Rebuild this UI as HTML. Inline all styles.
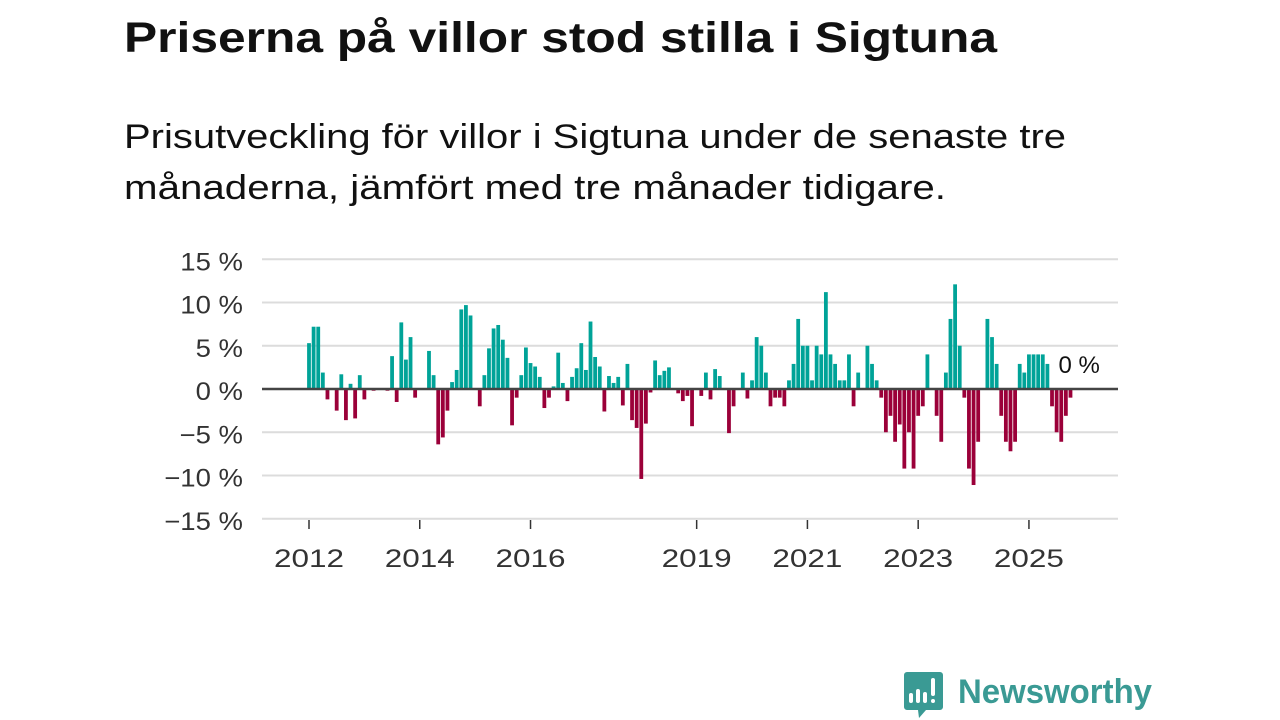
<!DOCTYPE html>
<html><head><meta charset="utf-8"><style>
html,body{margin:0;padding:0;background:#fff;width:1280px;height:720px;overflow:hidden;}
svg{display:block;font-family:"Liberation Sans",sans-serif;}
</style></head><body>
<svg id="chart" width="1280" height="720" viewBox="0 0 1280 720" xmlns="http://www.w3.org/2000/svg">
<text x="124" y="52" font-size="43" font-weight="bold" fill="#111" textLength="873" lengthAdjust="spacingAndGlyphs">Priserna på villor stod stilla i Sigtuna</text>
<text x="124" y="148" font-size="34" fill="#111" textLength="942" lengthAdjust="spacingAndGlyphs">Prisutveckling för villor i Sigtuna under de senaste tre</text>
<text x="124" y="199" font-size="34" fill="#111" textLength="822" lengthAdjust="spacingAndGlyphs">månaderna, jämfört med tre månader tidigare.</text>
<g id="grid"></g>
<g id="bars"></g>
<g id="axes"></g>
<g>
<path d="M907 672 h33 a3 3 0 0 1 3 3 v32 a3 3 0 0 1 -3 3 h-14 l-7 8 l-1 -8 h-11 a3 3 0 0 1 -3 -3 v-32 a3 3 0 0 1 3 -3z" fill="#3a9a94"/>
<rect x="909" y="693" width="4" height="10" rx="2" fill="#fff"/>
<rect x="916" y="689" width="4" height="14" rx="2" fill="#fff"/>
<rect x="923" y="692" width="4" height="11" rx="2" fill="#fff"/>
<rect x="931" y="678" width="4" height="18" rx="2" fill="#fff"/>
<rect x="931" y="699" width="4" height="4" rx="2" fill="#fff"/>
<text x="958" y="703" font-size="34" font-weight="bold" fill="#3a9a94" textLength="194" lengthAdjust="spacingAndGlyphs">Newsworthy</text>
</g>
</svg>
<script>
const values = [5.3,7.2,7.2,1.9,-1.2,0,-2.5,1.7,-3.6,0.6,-3.4,1.6,-1.2,0,-0.2,0,0,-0.2,3.8,-1.5,7.7,3.4,6.0,-1.0,0,0,4.4,1.6,-6.4,-5.6,-2.5,0.8,2.2,9.2,9.7,8.5,0,-2.0,1.6,4.7,7.0,7.4,5.7,3.6,-4.2,-1.0,1.6,4.8,3.0,2.6,1.4,-2.2,-1.0,0.3,4.2,0.7,-1.4,1.4,2.4,5.3,2.2,7.8,3.7,2.6,-2.6,1.5,0.7,1.4,-1.9,2.9,-3.6,-4.5,-10.4,-4.0,-0.4,3.3,1.6,2.1,2.5,0,-0.5,-1.4,-0.8,-4.3,0,-0.8,1.9,-1.2,2.3,1.5,0,-5.1,-2.0,0,1.9,-1.1,1.0,6.0,5.0,1.9,-2.0,-1.0,-1.0,-2.0,1.0,2.9,8.1,5.0,5.0,1.0,5.0,4.0,11.2,4.0,2.9,1.0,1.0,4.0,-2.0,1.9,0,5.0,2.9,1.0,-1.0,-5.0,-3.1,-6.1,-4.1,-9.2,-5.0,-9.2,-3.1,-2.0,4.0,0,-3.1,-6.1,1.9,8.1,12.1,5.0,-1.0,-9.2,-11.1,-6.1,0,8.1,6.0,2.9,-3.1,-6.1,-7.2,-6.1,2.9,1.9,4.0,4.0,4.0,4.0,2.9,-2.0,-5.0,-6.1,-3.1,-1.0];
const startYear = 2012;
const yTicks = [15,10,5,0,-5,-10,-15];
const yTickLabels = ["15 %","10 %","5 %","0 %","\u22125 %","\u221210 %","\u221215 %"];
const xTickYears = [2012,2014,2016,2019,2021,2023,2025];
const lastLabel = "0 %";

const NS = "http://www.w3.org/2000/svg";
const yScale = v => 389 - v * 8.65;
const xScale = i => 309 + i * 4.615;
function mk(tag, attrs, parent){const e=document.createElementNS(NS,tag);for(const k in attrs)e.setAttribute(k,attrs[k]);parent.appendChild(e);return e;}
function widen(t,f){const w=t.getComputedTextLength();t.setAttribute('textLength',w*f);t.setAttribute('lengthAdjust','spacingAndGlyphs');}
const grid=document.getElementById('grid'), bars=document.getElementById('bars'), axes=document.getElementById('axes');
yTicks.forEach((t,i)=>{
  if(t!==0){const l=mk('line',{x1:262,x2:1118,y1:yScale(t),y2:yScale(t),stroke:'#dcdcdc','stroke-width':2},grid);
  
  }
  const tx=mk('text',{x:243,y:yScale(t)+11,'font-size':25,fill:'#333','text-anchor':'end'},axes);
  tx.textContent=yTickLabels[i];
  
  
  widen(tx,1.1);
});
values.forEach((v,i)=>{
  const y0=yScale(0), y1=yScale(v);
  const r=mk('rect',{x:xScale(i)-1.9,y:Math.min(y0,y1),width:3.8,height:Math.abs(y1-y0),fill:v>=0?'#00a398':'#9b0039'},bars);
  
  
});
const zl=mk('line',{x1:262,x2:1118,y1:yScale(0),y2:yScale(0),stroke:'#444','stroke-width':2.5},axes);


xTickYears.forEach(yr=>{
  const x=xScale((yr-startYear)*12);
  const t=mk('line',{x1:x,x2:x,y1:520,y2:529,stroke:'#333','stroke-width':1.5},axes);
  
  
  const tx=mk('text',{x:x-35,y:567,'font-size':25,fill:'#333'},axes);
  tx.textContent=String(yr);
  
  
  tx.setAttribute('textLength',70);
  tx.setAttribute('lengthAdjust','spacingAndGlyphs');
});
const ll=mk('text',{x:xScale(values.length-1)-12,y:373,'font-size':24,fill:'#111'},axes);
ll.textContent=lastLabel;


</script>
</body></html>
